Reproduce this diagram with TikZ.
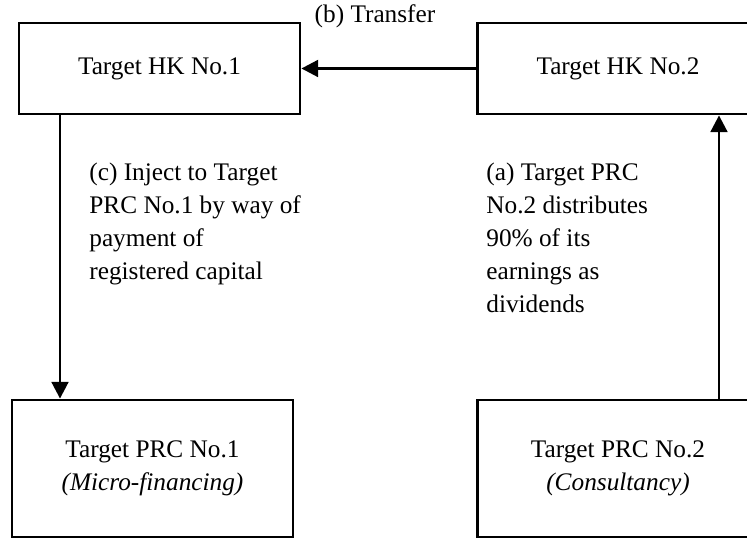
\documentclass[tikz,border=0pt]{standalone}
\usepackage{fontspec}
\setmainfont{Liberation Serif}
\usetikzlibrary{arrows.meta}

\begin{document}
\begin{tikzpicture}[>={Triangle[length=9.5pt,width=9.5pt]},
	box/.style={draw,line width=1.6pt,inner sep=0pt,align=center,minimum width=5.62cm},
	flow/.style={->,line width=1.6pt},
	every node/.style={font=\fontsize{14.4}{18.7}\selectfont}]
	
	\useasboundingbox (0,0) rectangle (14.94,10.78);
	
	% HK companies
	\node[box,minimum height=1.82cm] (hk1) at (3.19,9.41) {Target HK No.1};
	\node[box,minimum height=1.82cm] (hk2) at (12.36,9.41) {Target HK No.2};
	
	% PRC companies
	\node[box,minimum height=2.74cm] (prc1) at (3.05,1.41) {Target PRC No.1\\\textit{(Micro-financing)}};
	\node[box,minimum height=2.74cm] (prc2) at (12.36,1.41) {Target PRC No.2\\\textit{(Consultancy)}};
	
	% x of the vertical flows
	\coordinate (cx) at (1.2,0);
	\coordinate (ax) at (14.38,0);
	
	% (b) transfer
	\draw[flow] (hk2.west) -- (hk1.east);
	\node (transfer) at (7.5,10.46) {(b) Transfer};
	
	% (c) inject
	\draw[flow] (hk1.south -| cx) -- (prc1.north -| cx);
	\node[anchor=north west,inner sep=0pt,align=left] (inject) at (1.78,7.52)
		{(c) Inject to Target\\PRC No.1 by way of\\payment of\\registered capital};
	
	% (a) dividends
	\draw[flow] (prc2.north -| ax) -- (hk2.south -| ax);
	\node[anchor=north west,inner sep=0pt,align=left] (dividend) at (9.72,7.52)
		{(a) Target PRC\\No.2 distributes\\90\% of its\\earnings as\\dividends};
	
\end{tikzpicture}
\end{document}
